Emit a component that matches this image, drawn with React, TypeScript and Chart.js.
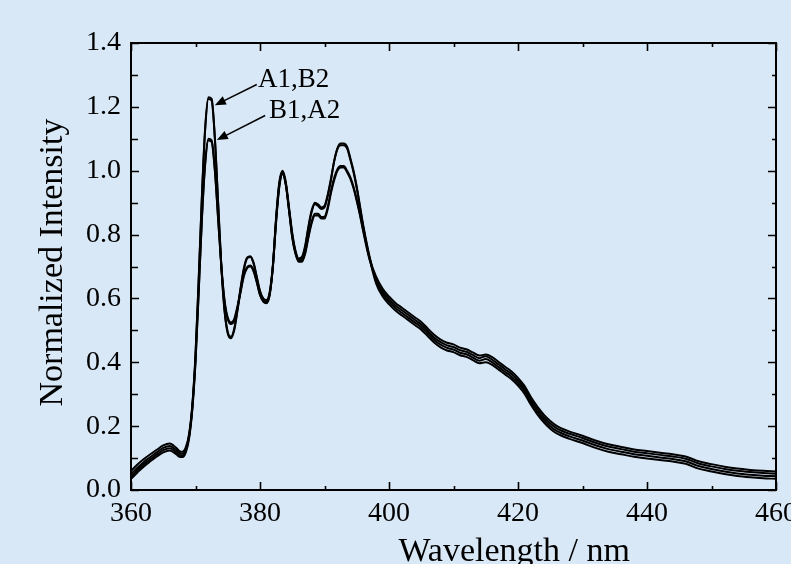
import React, { useEffect, useRef } from "react";
import { Chart, registerables } from "chart.js";

Chart.register(...registerables);

const wavelengths = [
  360, 361, 362, 363, 364, 365, 366, 367,
  367.5, 368, 368.5, 369, 369.5, 370, 370.5, 371, 371.5, 372,
  372.5, 373, 373.5, 374, 374.5, 375, 375.5, 376, 376.5, 377,
  377.5, 378, 378.5, 379, 379.5, 380, 380.5, 381, 381.5, 382,
  382.5, 383, 383.5, 384, 384.5, 385, 385.5, 386, 386.5, 387,
  387.5, 388, 388.5, 389, 389.5, 390, 390.5, 391, 391.5, 392,
  392.5, 393, 393.5, 394, 394.5, 395, 395.5,
  396, 397, 398, 399, 400, 401, 402, 403, 404, 405, 406, 407, 408, 409, 410,
  411, 412, 413, 414, 415, 416, 417, 418, 419, 420, 421, 422, 423, 424, 425, 426,
  428, 430, 432, 434, 436, 438, 440, 442, 444, 446, 448, 450, 452, 454, 456, 458, 460,
];

const seriesA1 = [
  0.050, 0.070, 0.088, 0.103, 0.118, 0.132, 0.138, 0.125,
  0.116, 0.114, 0.128, 0.170, 0.260, 0.420, 0.660, 0.920, 1.130, 1.225,
  1.220, 1.100, 0.900, 0.700, 0.560, 0.490, 0.475, 0.500, 0.560, 0.630,
  0.690, 0.725, 0.730, 0.710, 0.665, 0.620, 0.595, 0.590, 0.615, 0.700,
  0.850, 0.960, 0.995, 0.960, 0.880, 0.800, 0.745, 0.720, 0.725, 0.760,
  0.820, 0.870, 0.895, 0.890, 0.880, 0.885, 0.920, 0.970, 1.030, 1.070,
  1.085, 1.085, 1.075, 1.040, 1.000, 0.950, 0.890,
  0.830, 0.730, 0.655, 0.615, 0.590, 0.570, 0.555, 0.540, 0.525, 0.510, 0.490, 0.470, 0.455, 0.445, 0.440,
  0.430, 0.425, 0.415, 0.405, 0.410, 0.400, 0.385, 0.370, 0.355, 0.335, 0.310, 0.275, 0.245, 0.220, 0.200, 0.185,
  0.168, 0.155, 0.140, 0.128, 0.120, 0.112, 0.107, 0.102, 0.097, 0.090, 0.075, 0.066, 0.058, 0.052, 0.048, 0.045, 0.043,
];

const seriesB2 = [
  0.060, 0.080, 0.097, 0.112, 0.126, 0.140, 0.146, 0.132,
  0.122, 0.120, 0.134, 0.175, 0.265, 0.425, 0.665, 0.925, 1.135, 1.230,
  1.225, 1.105, 0.905, 0.705, 0.565, 0.495, 0.480, 0.505, 0.565, 0.635,
  0.695, 0.728, 0.732, 0.712, 0.668, 0.624, 0.600, 0.595, 0.620, 0.705,
  0.855, 0.965, 1.000, 0.965, 0.885, 0.805, 0.750, 0.725, 0.730, 0.765,
  0.825, 0.875, 0.900, 0.895, 0.885, 0.890, 0.925, 0.975, 1.030, 1.068,
  1.080, 1.080, 1.070, 1.035, 0.995, 0.945, 0.885,
  0.825, 0.725, 0.647, 0.607, 0.582, 0.562, 0.547, 0.532, 0.517, 0.502, 0.482, 0.462, 0.447, 0.437, 0.432,
  0.422, 0.417, 0.407, 0.397, 0.400, 0.392, 0.377, 0.362, 0.347, 0.327, 0.302, 0.267, 0.237, 0.212, 0.192, 0.177,
  0.160, 0.147, 0.132, 0.120, 0.112, 0.104, 0.099, 0.094, 0.089, 0.082, 0.067, 0.058, 0.050, 0.044, 0.040, 0.037, 0.035,
];

const seriesB1 = [
  0.035, 0.055, 0.074, 0.090, 0.105, 0.118, 0.124, 0.112,
  0.104, 0.103, 0.118, 0.160, 0.250, 0.400, 0.620, 0.850, 1.020, 1.095,
  1.090, 1.000, 0.850, 0.700, 0.590, 0.535, 0.520, 0.530, 0.570, 0.620,
  0.670, 0.695, 0.700, 0.685, 0.650, 0.610, 0.590, 0.585, 0.610, 0.700,
  0.840, 0.950, 0.990, 0.955, 0.875, 0.790, 0.740, 0.715, 0.715, 0.740,
  0.790, 0.835, 0.860, 0.860, 0.850, 0.850, 0.880, 0.930, 0.970, 1.000,
  1.010, 1.010, 0.995, 0.975, 0.945, 0.905, 0.860,
  0.810, 0.720, 0.660, 0.623, 0.598, 0.578, 0.563, 0.548, 0.533, 0.518, 0.498, 0.478, 0.463, 0.453, 0.448,
  0.438, 0.433, 0.423, 0.413, 0.419, 0.408, 0.393, 0.378, 0.363, 0.343, 0.318, 0.283, 0.253, 0.228, 0.208, 0.193,
  0.176, 0.163, 0.148, 0.136, 0.128, 0.120, 0.115, 0.110, 0.105, 0.098, 0.083, 0.074, 0.066, 0.060, 0.056, 0.053, 0.051,
];

const seriesA2 = [
  0.042, 0.062, 0.081, 0.096, 0.111, 0.125, 0.131, 0.118,
  0.110, 0.109, 0.123, 0.165, 0.255, 0.405, 0.625, 0.855, 1.025, 1.100,
  1.095, 1.005, 0.855, 0.705, 0.595, 0.540, 0.525, 0.535, 0.575, 0.625,
  0.674, 0.698, 0.703, 0.688, 0.653, 0.613, 0.593, 0.588, 0.613, 0.703,
  0.843, 0.953, 0.993, 0.958, 0.878, 0.793, 0.743, 0.718, 0.718, 0.745,
  0.795, 0.840, 0.865, 0.865, 0.855, 0.856, 0.886, 0.936, 0.978, 1.005,
  1.015, 1.015, 1.000, 0.980, 0.950, 0.910, 0.865,
  0.815, 0.725, 0.668, 0.631, 0.606, 0.586, 0.571, 0.556, 0.541, 0.526, 0.506, 0.486, 0.471, 0.461, 0.456,
  0.446, 0.441, 0.431, 0.421, 0.424, 0.416, 0.401, 0.386, 0.371, 0.351, 0.326, 0.291, 0.261, 0.236, 0.216, 0.201,
  0.183, 0.170, 0.155, 0.143, 0.135, 0.127, 0.122, 0.117, 0.112, 0.105, 0.090, 0.081, 0.073, 0.067, 0.063, 0.060, 0.058,
];

const seriesNames = ["A1", "B2", "B1", "A2"];
const seriesValues = [seriesA1, seriesB2, seriesB1, seriesA2];

const xMajorTicks = [360, 380, 400, 420, 440, 460];
const xMinorTicks = [370, 390, 410, 430, 450];
const yMajorTicks = [0, 0.2, 0.4, 0.6, 0.8, 1.0, 1.2, 1.4];
const yMinorTicks = [0.1, 0.3, 0.5, 0.7, 0.9, 1.1, 1.3];

const xTitle = "Wavelength / nm";
const yTitle = "Normalized Intensity";
const annotationHigh = "A1,B2";
const annotationLow = "B1,A2";

const FONT = "'Liberation Serif', 'Times New Roman', serif";

const decorPlugin = {
  id: "decor",
  afterDatasetsDraw(chart: any) {
    const { ctx, chartArea: a, scales } = chart;
    const xs = scales.x;
    const ys = scales.y;
    ctx.save();
    ctx.strokeStyle = "#000";
    ctx.fillStyle = "#000";
    ctx.lineCap = "butt";

    // frame
    ctx.lineWidth = 2;
    ctx.strokeRect(a.left, a.top, a.right - a.left, a.bottom - a.top);

    // ticks (inward)
    ctx.lineWidth = 1.6;
    const tickX = (v: number, len: number) => {
      const px = Math.round(xs.getPixelForValue(v)) + 0.5;
      ctx.beginPath();
      ctx.moveTo(px, a.bottom);
      ctx.lineTo(px, a.bottom - len);
      ctx.moveTo(px, a.top);
      ctx.lineTo(px, a.top + len);
      ctx.stroke();
    };
    const tickY = (v: number, lenL: number, lenR: number) => {
      const py = Math.round(ys.getPixelForValue(v)) + 0.5;
      ctx.beginPath();
      ctx.moveTo(a.left, py);
      ctx.lineTo(a.left + lenL, py);
      ctx.moveTo(a.right, py);
      ctx.lineTo(a.right - lenR, py);
      ctx.stroke();
    };
    xMajorTicks.forEach((v) => tickX(v, 8));
    xMinorTicks.forEach((v) => tickX(v, 4));
    yMajorTicks.forEach((v) => tickY(v, 8, 8));
    yMinorTicks.forEach((v) => tickY(v, 7, 4));

    // annotations
    ctx.font = `27px ${FONT}`;
    ctx.textAlign = "left";
    ctx.textBaseline = "alphabetic";
    ctx.fillText(annotationHigh, xs.getPixelForValue(379.7), ys.getPixelForValue(1.262));
    ctx.fillText(annotationLow, xs.getPixelForValue(381.4), ys.getPixelForValue(1.166));

    const arrow = (x1: number, y1: number, x2: number, y2: number) => {
      const p1x = xs.getPixelForValue(x1), p1y = ys.getPixelForValue(y1);
      const p2x = xs.getPixelForValue(x2), p2y = ys.getPixelForValue(y2);
      const ang = Math.atan2(p2y - p1y, p2x - p1x);
      ctx.lineWidth = 1.5;
      ctx.beginPath();
      ctx.moveTo(p1x, p1y);
      ctx.lineTo(p2x - 6 * Math.cos(ang), p2y - 6 * Math.sin(ang));
      ctx.stroke();
      const hl = 11, hw = 4.5;
      ctx.beginPath();
      ctx.moveTo(p2x, p2y);
      ctx.lineTo(p2x - hl * Math.cos(ang) + hw * Math.sin(ang), p2y - hl * Math.sin(ang) - hw * Math.cos(ang));
      ctx.lineTo(p2x - hl * Math.cos(ang) - hw * Math.sin(ang), p2y - hl * Math.sin(ang) + hw * Math.cos(ang));
      ctx.closePath();
      ctx.fill();
    };
    arrow(379.5, 1.27, 373.0, 1.205);
    arrow(380.8, 1.173, 373.3, 1.096);

    // axis titles
    ctx.font = `34px ${FONT}`;
    ctx.textAlign = "center";
    ctx.textBaseline = "alphabetic";
    const tx = a.left + (a.right - a.left) * 0.594;
    ctx.fillText(xTitle, tx, 561);

    ctx.save();
    ctx.translate(62, (a.top + a.bottom) / 2 - 4);
    ctx.rotate(-Math.PI / 2);
    ctx.textAlign = "center";
    ctx.textBaseline = "alphabetic";
    ctx.fillText(yTitle, 0, 0);
    ctx.restore();

    ctx.restore();
  },
};

export default function App() {
  const canvasRef = useRef<HTMLCanvasElement | null>(null);

  useEffect(() => {
    const canvas = canvasRef.current;
    if (!canvas) return;
    const datasets = seriesValues.map((vals, i) => ({
      label: seriesNames[i],
      data: wavelengths.map((w, j) => ({ x: w, y: vals[j] })),
      borderColor: "#000",
      backgroundColor: "#000",
      borderWidth: 2,
      pointRadius: 0,
      fill: false,
      cubicInterpolationMode: "monotone" as const,
    }));
    const chart = new Chart(canvas, {
      type: "line",
      data: { datasets },
      options: {
        animation: false,
        responsive: false,
        devicePixelRatio: 1,
        layout: { padding: { top: 43, right: 54, bottom: 0, left: 0 } },
        plugins: { legend: { display: false }, tooltip: { enabled: false } },
        scales: {
          x: {
            type: "linear",
            min: 360,
            max: 460,
            afterBuildTicks: (s: any) => {
              s.ticks = xMajorTicks.map((v) => ({ value: v }));
            },
            ticks: {
              color: "#000",
              font: { family: FONT, size: 28 },
              padding: 7,
              maxRotation: 0,
              autoSkip: false,
            },
            grid: { display: false, drawTicks: false },
            border: { display: false },
            afterFit: (s: any) => {
              s.height = 74;
            },
          },
          y: {
            type: "linear",
            min: 0,
            max: 1.4,
            afterBuildTicks: (s: any) => {
              s.ticks = yMajorTicks.map((v) => ({ value: v }));
            },
            ticks: {
              color: "#000",
              font: { family: FONT, size: 28 },
              padding: 10,
              callback: (v: any) => Number(v).toFixed(1),
            },
            grid: { display: false, drawTicks: false },
            border: { display: false },
            afterFit: (s: any) => {
              s.width = 131;
            },
          },
        },
      },
      plugins: [decorPlugin],
    });
    return () => chart.destroy();
  }, []);

  return (
    <div
      style={{
        position: "fixed",
        left: 0,
        top: 0,
        width: 791,
        height: 564,
        overflow: "hidden",
        background: "#d9e8f6",
      }}
    >
      <canvas ref={canvasRef} width={830} height={564} style={{ display: "block" }} />
    </div>
  );
}
